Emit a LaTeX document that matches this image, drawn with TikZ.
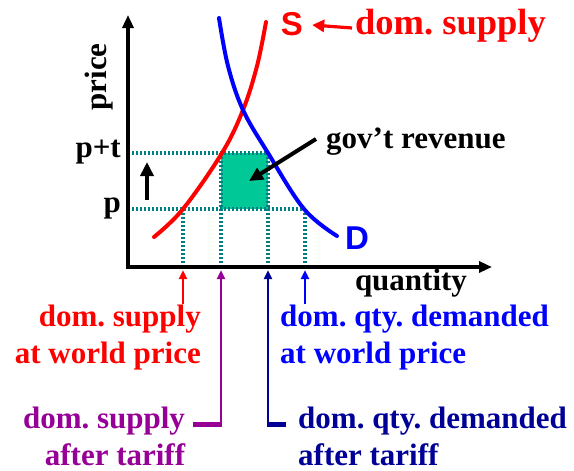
\documentclass[tikz,border=0pt]{standalone}
\usepackage{fontspec}
\setmainfont{Liberation Serif}
\setsansfont{Liberation Sans}
\usetikzlibrary{arrows.meta}
\frenchspacing
\definecolor{dotteal}{RGB}{0,128,128}
\definecolor{govgreen}{RGB}{0,200,150}
\definecolor{supred}{RGB}{255,0,0}
\definecolor{dempurple}{RGB}{150,0,150}
\definecolor{darkblu}{RGB}{0,0,150}
\definecolor{blu}{RGB}{0,0,255}
\tikzset{
  axisline/.style={line width=3.2pt,-{Triangle[length=13pt,width=11pt]}},
  tealdot/.style={dotteal,line width=3.2pt,dash pattern=on 2.4pt off 1.6pt},
  curve/.style={line width=4pt,line cap=round},
  lbl/.style={font=\bfseries\fontsize{31}{37}\selectfont,inner sep=0pt},
  biglbl/.style={font=\bfseries\fontsize{36.5}{40}\selectfont,inner sep=0pt},
  sanslbl/.style={font=\sffamily\bfseries\fontsize{33}{36}\selectfont,inner sep=0pt},
  smallarrow/.style={line width=2.5pt,-{Triangle[length=9pt,width=8pt]}},
  bigarrow/.style={line width=4pt,-{Triangle[length=14pt,width=13pt]}}
}
\begin{document}
\begin{tikzpicture}[x=1pt,y=-1pt]
\useasboundingbox (0,0) rectangle (574,471);
% key coordinates
\coordinate (O) at (128,267);
\coordinate (ytop) at (128,15);
\coordinate (xend) at (492,267);
\coordinate (P) at (128,209);
\coordinate (PT) at (128,153);
\coordinate (a1) at (183,209);
\coordinate (a2) at (221,153);
\coordinate (a3) at (268,153);
\coordinate (a4) at (305,209);
\coordinate (b1) at (183,267);
\coordinate (b2) at (221,267);
\coordinate (b3) at (268,267);
\coordinate (b4) at (305,267);
\coordinate (c1) at (183,270);
\coordinate (c2) at (221,270);
\coordinate (c3) at (268,270);
\coordinate (c4) at (305,270);
% green revenue area
\fill[govgreen] (221,153) rectangle (268,209);
% dotted guides
\draw[tealdot] (P) -- (a4);
\draw[tealdot] (PT) -- (a3);
\draw[tealdot] (a1) -- (b1);
\draw[tealdot] (a2) -- (b2);
\draw[tealdot] (a3) -- (b3);
\draw[tealdot] (a4) -- (b4);
% axes
\draw[axisline] (O) -- (ytop);
\draw[axisline] ([xshift=-1.6pt]O) -- (xend);
% curves
\draw[curve,supred] plot[smooth,tension=0.6] coordinates {(154,237) (183,209) (222,153) (243,110) (257,66) (266,22)};
\draw[curve,blu] plot[smooth,tension=0.6] coordinates {(219,18) (228,66) (243,110) (268,153) (304,209) (337,236)};
% axis labels
\node[lbl,rotate=90] (price) at (99,77) {price};
\node[lbl] (quantity) at (411,283) {quantity};
\node[lbl,anchor=east] (pt) at (121,152) {p+t};
\node[lbl,anchor=east] (p) at (121,208) {p};
\coordinate (upa) at (147,200);
\coordinate (upb) at (147,162);
\draw[bigarrow] (upa) -- (upb);
% S and D
\node[sanslbl,text=supred] (S) at (292,24) {S};
\node[biglbl,text=supred,anchor=west] (domsup) at (355,26) {dom. supply};
\draw[supred,line width=3.2pt,-{Triangle[length=12pt,width=12pt]}] ([xshift=-3pt,yshift=-2pt]domsup.west) -- ([xshift=9pt,yshift=-1pt]S.east);
\node[sanslbl,text=blu] (D) at (357,238) {D};
% gov't revenue
\node[lbl,anchor=west] (gov) at (326,142) {gov’t revenue};
\coordinate (govtip) at (249,181);
\draw[bigarrow] ([xshift=-10pt,yshift=3pt]gov.west) -- (govtip);
% bottom labels
\node[lbl,text=supred,align=right,anchor=east] (l1) at (201,338) {dom. supply\\at world price};
\node[lbl,text=blu,align=left,anchor=west] (l4) at (280,338) {dom. qty. demanded\\at world price};
\node[lbl,text=dempurple,align=center] (l2) at (104,436) {dom. supply\\\hspace*{22pt}after tariff};
\node[lbl,text=darkblu,align=left,anchor=west] (l3) at (298,436) {dom. qty. demanded\\after tariff};
\coordinate (r1) at (183,304);
\coordinate (r4) at (305,304);
\draw[smallarrow,supred] (r1) -- (c1);
\draw[smallarrow,blu] (r4) -- (c4);
\coordinate (pk) at (221,424);
\coordinate (ps) at (193,424);
\coordinate (dk) at (268,424);
\coordinate (ds) at (286,424);
\draw[line width=5pt,dempurple] (ps) -- ([xshift=1.25pt]pk);
\draw[smallarrow,dempurple] ([yshift=2.5pt]pk) -- (c2);
\draw[line width=5pt,darkblu] ([xshift=-1.25pt]dk) -- (ds);
\draw[smallarrow,darkblu] ([yshift=2.5pt]dk) -- (c3);
\end{tikzpicture}
\end{document}
